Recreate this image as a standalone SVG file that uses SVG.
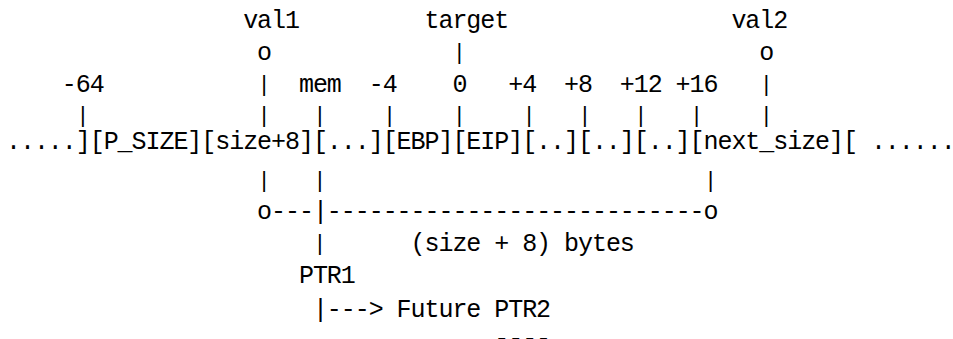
<svg xmlns="http://www.w3.org/2000/svg" width="953" height="339" viewBox="0 0 953 339">
<style>
text{font-family:"Liberation Mono","Courier New",monospace;font-size:25px;letter-spacing:-1.05px;fill:#000;white-space:pre}
text.bar{font-size:22px;letter-spacing:0}
</style>
<rect width="953" height="339" fill="#fff"/>
<g id="connectors">
<text x="257.1" y="60">o</text>
<text class="bar" x="452.8" y="59">|</text>
<text x="759.3" y="60">o</text>
<text class="bar" x="257.5" y="91">|</text>
<text class="bar" x="759.7" y="91">|</text>
<text class="bar" x="76.15" y="122">|</text>
<text class="bar" x="257.5" y="122">|</text>
<text class="bar" x="313.3" y="122">|</text>
<text class="bar" x="383.05" y="122">|</text>
<text class="bar" x="452.8" y="122">|</text>
<text class="bar" x="522.55" y="122">|</text>
<text class="bar" x="578.35" y="122">|</text>
<text class="bar" x="634.15" y="122">|</text>
<text class="bar" x="689.95" y="122">|</text>
<text class="bar" x="759.7" y="122">|</text>
<text class="bar" x="257.5" y="187">|</text>
<text class="bar" x="313.3" y="187">|</text>
<text class="bar" x="703.9" y="187">|</text>
<text x="257.1" y="219">o---|---------------------------o</text>
<text class="bar" x="313.3" y="250">|</text>
<text x="312.9" y="317">|---&gt;</text>
</g>
<g id="val1"><text x="243.15" y="28">val1</text></g>
<g id="target"><text x="424.5" y="28">target</text></g>
<g id="val2"><text x="731.4" y="28">val2</text></g>
<g id="off-64"><text x="61.8" y="92">-64</text></g>
<g id="mem"><text x="298.95" y="92">mem</text></g>
<g id="off-4"><text x="368.7" y="92">-4</text></g>
<g id="off0"><text x="452.4" y="92">0</text></g>
<g id="off4"><text x="508.2" y="92">+4</text></g>
<g id="off8"><text x="564" y="92">+8</text></g>
<g id="off12"><text x="619.8" y="92">+12</text></g>
<g id="off16"><text x="675.6" y="92">+16</text></g>
<g id="cell-prev"><text x="6" y="149">.....]</text></g>
<g id="cell-psize"><text x="89.7" y="149">[P_SIZE]</text></g>
<g id="cell-size8"><text x="201.3" y="149">[size+8]</text></g>
<g id="cell-mem"><text x="312.9" y="149">[...]</text></g>
<g id="cell-ebp"><text x="382.65" y="149">[EBP]</text></g>
<g id="cell-eip"><text x="452.4" y="149">[EIP]</text></g>
<g id="cell-a"><text x="522.15" y="149">[..]</text></g>
<g id="cell-b"><text x="577.95" y="149">[..]</text></g>
<g id="cell-c"><text x="633.75" y="149">[..]</text></g>
<g id="cell-next"><text x="689.55" y="149">[next_size]</text></g>
<g id="cell-rest"><text x="843" y="149">[ ......</text></g>
<g id="bytes"><text x="410.55" y="251">(size + 8) bytes</text></g>
<g id="ptr1"><text x="298.95" y="283">PTR1</text></g>
<g id="ptr2"><text x="396.6" y="317">Future PTR2</text></g>
<g id="underline"><text x="494.25" y="346">----</text></g>
</svg>
